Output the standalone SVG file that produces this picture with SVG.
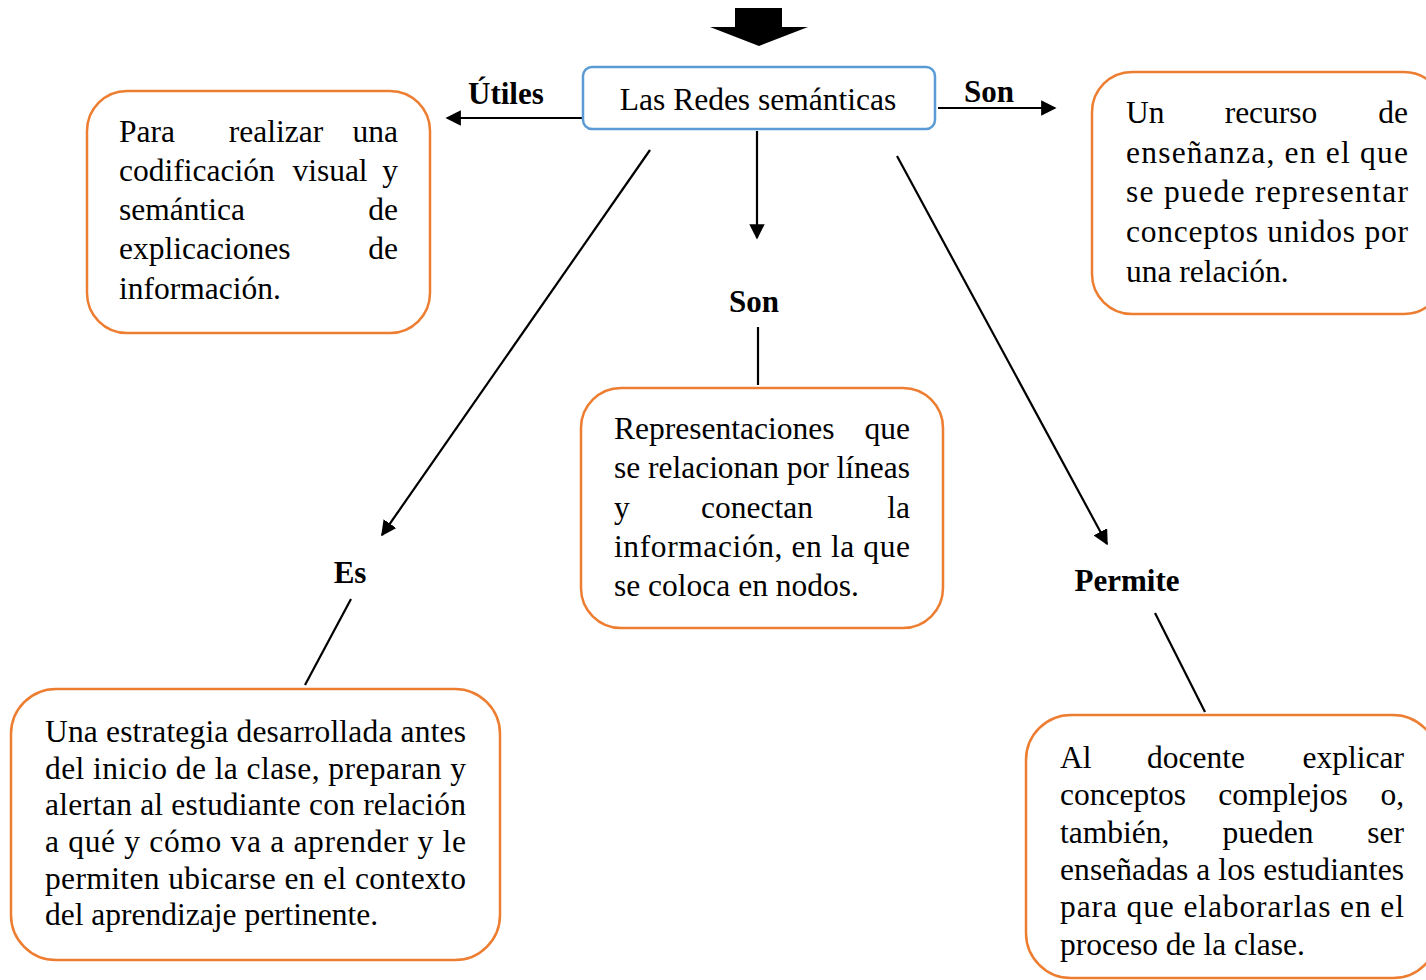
<svg xmlns="http://www.w3.org/2000/svg" width="1426" height="980" viewBox="0 0 1426 980">
<defs>
<style>
.box{fill:#fff;stroke:#ED7D31;stroke-width:2.5}
.main{fill:#fff;stroke:#5B9BD5;stroke-width:2.5}
.t{font-family:"Liberation Serif","Times New Roman",serif;font-size:31.5px;fill:#000}
.lbl{font-family:"Liberation Serif","Times New Roman",serif;font-size:31px;font-weight:bold;fill:#000}
.c{stroke:#000;stroke-width:2.2;fill:none}
.e{text-anchor:end}
.m{text-anchor:middle}
</style>
<marker id="ah2" viewBox="0 0 10 10" refX="9" refY="5" markerWidth="7" markerHeight="7" orient="auto">
<path d="M0,0 L10,5 L0,10 z" fill="#000"/>
</marker>
</defs>
<rect width="1426" height="980" fill="#fff"/>

<g id="top-arrow">
<path d="M735,8 H782 V27 H808 L759,46 L710,27 H735 Z" fill="#000"/>
</g>

<g id="connectors">
<line class="c" x1="583" y1="118" x2="447" y2="118" marker-end="url(#ah2)"/>
<line class="c" x1="938" y1="108" x2="1055" y2="108" marker-end="url(#ah2)"/>
<line class="c" x1="757" y1="131" x2="757" y2="238" marker-end="url(#ah2)"/>
<line class="c" x1="758" y1="327" x2="758" y2="385"/>
<line class="c" x1="650" y1="150" x2="382" y2="535" marker-end="url(#ah2)"/>
<line class="c" x1="351" y1="599" x2="305" y2="685"/>
<line class="c" x1="897" y1="156" x2="1107" y2="544" marker-end="url(#ah2)"/>
<line class="c" x1="1155" y1="613" x2="1205" y2="712"/>
</g>

<g id="labels">
<text class="lbl" x="468" y="104">Útiles</text>
<text class="lbl" x="964" y="102">Son</text>
<text class="lbl m" x="754" y="312">Son</text>
<text class="lbl m" x="350" y="583">Es</text>
<text class="lbl m" x="1127" y="591">Permite</text>
</g>

<g id="node-main">
<rect class="main" x="583" y="67" width="352" height="62" rx="9"/>
<text class="t m" x="758" y="110">Las Redes semánticas</text>
</g>

<g id="node-utiles">
<rect class="box" x="87" y="91" width="343" height="242" rx="40"/>
<text class="t" x="119" y="142">Para</text>
<text class="t m" x="276" y="142">realizar</text>
<text class="t e" x="398" y="142">una</text>
<text class="t" x="119" y="181">codificación</text>
<text class="t m" x="330" y="181">visual</text>
<text class="t e" x="398" y="181">y</text>
<text class="t" x="119" y="220">semántica</text>
<text class="t e" x="398" y="220">de</text>
<text class="t" x="119" y="259">explicaciones</text>
<text class="t e" x="398" y="259">de</text>
<text class="t" x="119" y="299">información.</text>
</g>

<g id="node-son-right">
<rect class="box" x="1092" y="72" width="352" height="242" rx="40"/>
<text class="t" x="1126" y="123">Un</text>
<text class="t m" x="1271" y="123">recurso</text>
<text class="t e" x="1408" y="123">de</text>
<text class="t" x="1126" y="163" textLength="282" lengthAdjust="spacing">enseñanza, en el que</text>
<text class="t" x="1126" y="202" textLength="282" lengthAdjust="spacing">se puede representar</text>
<text class="t" x="1126" y="242" textLength="282" lengthAdjust="spacing">conceptos unidos por</text>
<text class="t" x="1126" y="282">una relación.</text>
</g>

<g id="node-son-center">
<rect class="box" x="581" y="388" width="362" height="240" rx="40"/>
<text class="t" x="614" y="439">Representaciones</text>
<text class="t e" x="910" y="439">que</text>
<text class="t" x="614" y="478" textLength="296" lengthAdjust="spacing">se relacionan por líneas</text>
<text class="t" x="614" y="518">y</text>
<text class="t m" x="757" y="518">conectan</text>
<text class="t e" x="910" y="518">la</text>
<text class="t" x="614" y="557" textLength="296" lengthAdjust="spacing">información, en la que</text>
<text class="t" x="614" y="596">se coloca en nodos.</text>
</g>

<g id="node-es">
<rect class="box" x="11" y="689" width="489" height="271" rx="45"/>
<text class="t" x="45" y="742" textLength="421" lengthAdjust="spacing">Una estrategia desarrollada antes</text>
<text class="t" x="45" y="779" textLength="421" lengthAdjust="spacing">del inicio de la clase, preparan y</text>
<text class="t" x="45" y="815" textLength="421" lengthAdjust="spacing">alertan al estudiante con relación</text>
<text class="t" x="45" y="852" textLength="421" lengthAdjust="spacing">a qué y cómo va a aprender y le</text>
<text class="t" x="45" y="889" textLength="421" lengthAdjust="spacing">permiten ubicarse en el contexto</text>
<text class="t" x="45" y="925">del aprendizaje pertinente.</text>
</g>

<g id="node-permite">
<rect class="box" x="1026" y="715" width="412" height="263" rx="45"/>
<text class="t" x="1060" y="768">Al</text>
<text class="t m" x="1196" y="768">docente</text>
<text class="t e" x="1404" y="768">explicar</text>
<text class="t" x="1060" y="805">conceptos</text>
<text class="t m" x="1283" y="805">complejos</text>
<text class="t e" x="1404" y="805">o,</text>
<text class="t" x="1060" y="843">también,</text>
<text class="t m" x="1268" y="843">pueden</text>
<text class="t e" x="1404" y="843">ser</text>
<text class="t" x="1060" y="880" textLength="344" lengthAdjust="spacing">enseñadas a los estudiantes</text>
<text class="t" x="1060" y="917" textLength="344" lengthAdjust="spacing">para que elaborarlas en el</text>
<text class="t" x="1060" y="955">proceso de la clase.</text>
</g>
</svg>
